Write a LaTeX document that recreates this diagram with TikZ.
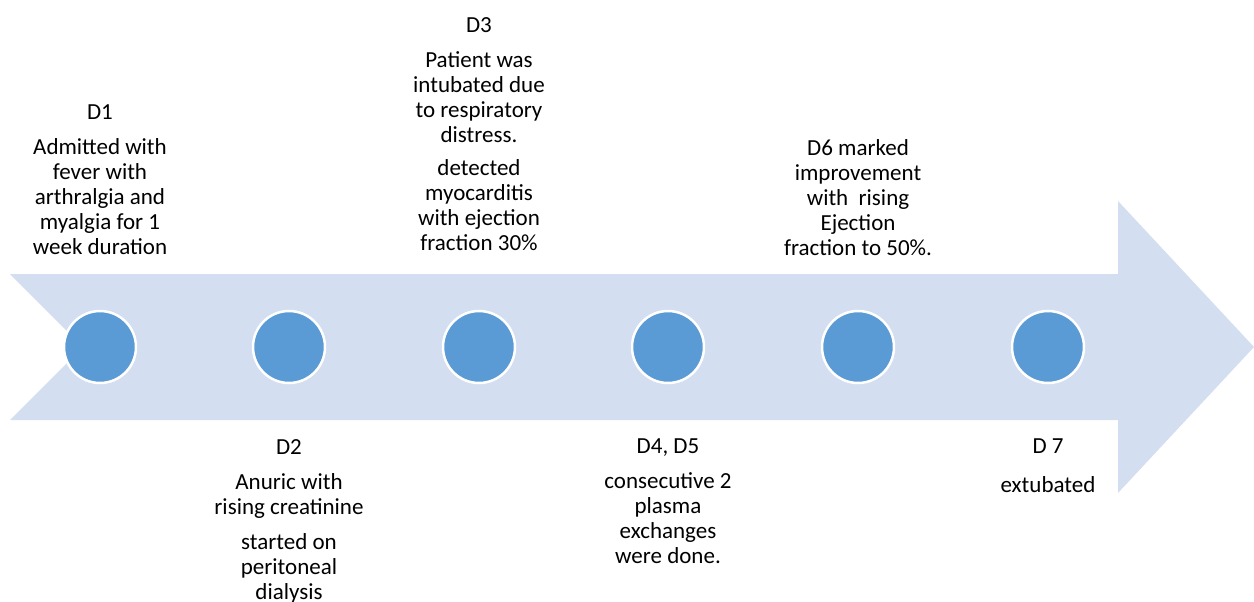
\documentclass[tikz,border=0pt]{standalone}
\usepackage{fontspec}
\setmainfont{Carlito}
\definecolor{bandc}{HTML}{D3DEF0}
\definecolor{dotc}{HTML}{5B9BD5}
\begin{document}
\begin{tikzpicture}[x=1pt,y=-1pt,
  dotnode/.style={circle,fill=dotc,draw=white,line width=2.5pt,minimum size=72pt,inner sep=0pt},
  lbl/.style={align=center,inner sep=0pt,anchor=north,font=\fontsize{23}{25}\selectfont}]
\useasboundingbox (0,0) rectangle (1254,602);
\fill[bandc] (10,274) -- (1118,274) -- (1118,201) -- (1254,347) -- (1118,493)
  -- (1118,420) -- (10,420) -- (83,347) -- cycle;
\node[dotnode] (c1) at (100,347) {};
\node[dotnode] (c2) at (289,347) {};
\node[dotnode] (c3) at (479,347) {};
\node[dotnode] (c4) at (668,347) {};
\node[dotnode] (c5) at (858,347) {};
\node[dotnode] (c6) at (1048,347) {};
\node[lbl] (t1) at (100,104) {D1\\[10pt]Admitted with\\fever with\\arthralgia and\\myalgia for 1\\week duration};
\node[lbl] (t3) at (479,17) {D3\\[10pt]Patient was\\intubated due\\to respiratory\\distress.\\[8pt]detected\\myocarditis\\with ejection\\fraction 30\%};
\node[lbl] (t5) at (858,139) {D6 marked\\improvement\\with\ \ rising\\Ejection\\fraction to 50\%.};
\node[lbl] (t2) at (289,439) {D2\\[10pt]Anuric with\\rising creatinine\\[10pt]started on\\peritoneal\\dialysis};
\node[lbl] (t4) at (668,439) {D4, D5\\[10pt]consecutive 2\\plasma\\exchanges\\were done.};
\node[lbl] (t6) at (1048,439) {D 7\\[14pt]extubated};
\end{tikzpicture}
\end{document}
